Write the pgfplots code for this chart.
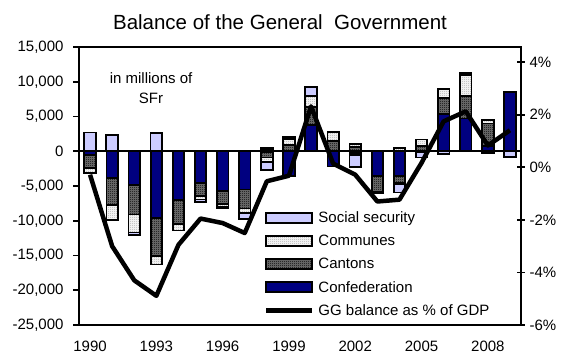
\documentclass[border=0pt]{standalone}
\usepackage{pgfplots}
\pgfplotsset{compat=1.18}
\usepackage{pgfplotstable}
\usetikzlibrary{patterns}
\usepackage{fontspec}
\setmainfont{Liberation Sans}
\definecolor{conf}{RGB}{0,0,128}
\definecolor{ss}{RGB}{204,204,255}

\pgfdeclarepatternformonly{checker}{\pgfpointorigin}{\pgfqpoint{2pt}{2pt}}{\pgfqpoint{2pt}{2pt}}{%
  \pgfpathrectangle{\pgfpointorigin}{\pgfqpoint{1pt}{1pt}}%
  \pgfpathrectangle{\pgfqpoint{1pt}{1pt}}{\pgfqpoint{1pt}{1pt}}%
  \pgfusepath{fill}}
\pgfdeclarepatternformonly{sparse}{\pgfpointorigin}{\pgfqpoint{2pt}{2pt}}{\pgfqpoint{2pt}{2pt}}{%
  \pgfpathrectangle{\pgfpointorigin}{\pgfqpoint{1pt}{1pt}}%
  \pgfusepath{fill}}

% positive and negative parts, millions of SFr
\pgfplotstableread{
year  confP cantP commP ssP  confN cantN commN ssN
1990  0     0     0     2700 -500  -1900 -700  0
1991  0     0     0     2300 -3850 -3850 -2150 0
1992  0     0     0     0    -4800 -4300 -2600 -300
1993  0     0     0     2600 -9600 -5500 -1200 0
1994  0     0     0     0    -7000 -3450 -950  0
1995  0     0     0     0    -4550 -1900 -500  -300
1996  0     0     0     0    -5750 -1850 -400  -200
1997  0     0     0     0    -5500 -2750 -600  -850
1998  0     300   200   0    -100  -800  -600  -1200
1999  0     900   900   200  -3600 0     0     0
2000  3800  2600  1500  1400 0     0     0     0
2001  0     1500  1300  0    -2200 0     0     0
2002  0     600   400   0    -300  0     -200  -1800
2003  0     0     0     0    -3600 -2200 -200  0
2004  0     0     500   0    -3600 -900  -200  -1250
2005  0     700   1000  0    -100  0     0     -800
2006  5400  2300  1300  0    0     0     0     -400
2007  4700  3300  3000  300  0     0     0     0
2008  700   3300  500   0    0     0     0     -300
2009  8550  0     0     0    0     0     0     -800
}\bars

\pgfplotstableread{
year gg
1990 -0.28
1991 -3.0
1992 -4.3
1993 -4.89
1994 -2.95
1995 -1.95
1996 -2.12
1997 -2.5
1998 -0.53
1999 -0.32
2000 2.32
2001 0.14
2002 -0.28
2003 -1.3
2004 -1.23
2005 0.17
2006 1.75
2007 2.13
2008 0.83
2009 1.41
}\ggtab

\pgfplotsset{
  base/.style={scale only axis, width=442pt, height=278pt,
    xmin=1989.5, xmax=2009.5,
    font=\fontsize{15}{18}\selectfont,
    /pgf/number format/assume math mode=true},
  confst/.style={fill=conf, draw=black, line width=1.8pt},
  cantst/.style={fill=black!55, postaction={pattern=checker, pattern color=black}, draw=black, line width=1.8pt},
  commst/.style={fill=black!6, postaction={pattern=sparse, pattern color=black!45}, draw=black, line width=1.8pt},
  ssst/.style={fill=ss, draw=black, line width=1.8pt},
  bleg/.style={legend image code/.code={\draw[##1, line width=2pt] (0pt,-5pt) rectangle (46pt,5pt);}},
  lleg/.style={legend image code/.code={\draw[##1] (0pt,0pt) -- (46pt,0pt);}},
}

\begin{document}
\begin{tikzpicture}
% positive stack + frame
\begin{axis}[base, clip=false,
  ymin=-25000, ymax=15000, ytick={-25000,-20000,...,15000},
  scaled y ticks=false, yticklabel style={/pgf/number format/1000 sep={,}, xshift=-6pt},
  xtick={1990,1993,...,2008}, xticklabel style={/pgf/number format/1000 sep=, yshift=-6pt},
  xtick style={draw=none}, ytick pos=left, tick align=outside, major tick length=6pt,
  axis line style={line width=1.8pt}, ytick style={line width=1.8pt, black},
  ybar stacked, bar width=11.5pt]
\addplot[confst] table[x=year,y=confP]{\bars};
\addplot[cantst] table[x=year,y=cantP]{\bars};
\addplot[commst] table[x=year,y=commP]{\bars};
\addplot[ssst] table[x=year,y=ssP]{\bars};
\coordinate (SW) at (rel axis cs:0,0);
\coordinate (NE) at (rel axis cs:1,1);
\node[anchor=base, font=\fontsize{20.5}{24}\selectfont, yshift=17pt] at (rel axis cs:0.4548,1) {Balance of the General~ Government};
\node[anchor=base] at (rel axis cs:0.163,0.869) {in millions of};
\node[anchor=base] at (rel axis cs:0.163,0.797) {SFr};
\end{axis}
% negative stack
\begin{axis}[base, hide axis, ymin=-25000, ymax=15000, ybar stacked, bar width=11.5pt]
\addplot[confst] table[x=year,y=confN]{\bars};
\addplot[cantst] table[x=year,y=cantN]{\bars};
\addplot[commst] table[x=year,y=commN]{\bars};
\addplot[ssst] table[x=year,y=ssN]{\bars};
\draw[line width=1.8pt] (axis cs:1989.5,0) -- (axis cs:2009.5,0);
\end{axis}
% line on right axis
\begin{axis}[base, ymin=-6, ymax=4.58, ytick={-6,-4,...,4},
  axis y line*=right, axis x line=none,
  yticklabel={\pgfmathprintnumber{\tick}\%},
  tick align=center, major tick length=8pt,
  axis line style={line width=1.8pt}, ytick style={line width=1.8pt, black},
  yticklabel style={xshift=1pt},
  legend cell align=left,
  legend style={at={(0.418,0.415)}, anchor=north west, draw=none, fill=none,
    font=\fontsize{15}{18}\selectfont, row sep=7pt, inner sep=0pt,
    nodes={inner xsep=4pt}}]
\addlegendimage{ssst, bleg}
\addlegendentry{Social security}
\addlegendimage{commst, bleg}
\addlegendentry{Communes}
\addlegendimage{cantst, bleg}
\addlegendentry{Cantons}
\addlegendimage{confst, bleg}
\addlegendentry{Confederation}
\addplot[black, line width=4.5pt, line join=round, lleg] table[x=year,y=gg]{\ggtab};
\addlegendentry{GG balance as \% of GDP}
\end{axis}
\pgfresetboundingbox
\path ([shift={(-79pt,-33pt)}]SW) rectangle ([shift={(44pt,47pt)}]NE);
\end{tikzpicture}
\end{document}
